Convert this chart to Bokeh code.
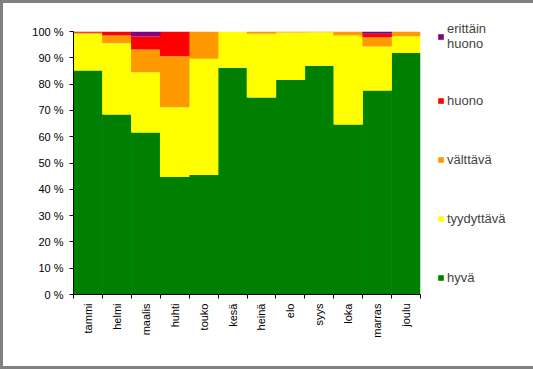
import math
from bokeh.plotting import figure
from bokeh.models import ColumnDataSource, FixedTicker, Legend, LegendItem, Range1d
from bokeh.embed import file_html
from bokeh.resources import INLINE

months = ["tammi", "helmi", "maalis", "huhti", "touko", "kesä", "heinä", "elo", "syys", "loka", "marras", "joulu"]
hyva = [85.2, 68.4, 61.6, 44.7, 45.4, 86.2, 74.9, 81.6, 87.0, 64.6, 77.6, 91.8]
tyydyttava = [13.9, 27.1, 22.9, 26.5, 44.2, 13.8, 24.2, 18.0, 12.7, 33.9, 16.7, 6.4]
valttava = [0.4, 3.0, 8.7, 19.4, 10.4, 0.0, 0.9, 0.4, 0.3, 1.5, 3.5, 1.8]
huono = [0.5, 1.5, 4.9, 9.4, 0.0, 0.0, 0.0, 0.0, 0.0, 0.0, 1.3, 0.0]
erittain_huono = [0.0, 0.0, 1.9, 0.0, 0.0, 0.0, 0.0, 0.0, 0.0, 0.0, 0.9, 0.0]

series = ["hyva", "tyydyttava", "valttava", "huono", "erittain_huono"]
labels = ["hyvä", "tyydyttävä", "välttävä", "huono", "erittäin\nhuono"]
colors = ["#008000", "#FFFF00", "#FF9900", "#FF0000", "#800080"]

x = [i + 0.5 for i in range(len(months))]
source = ColumnDataSource(dict(x=x, hyva=hyva, tyydyttava=tyydyttava, valttava=valttava,
                               huono=huono, erittain_huono=erittain_huono))

p = figure(width=533, height=369, frame_width=347, frame_height=263,
           output_backend="svg", toolbar_location=None,
           x_range=Range1d(0, len(months)), y_range=Range1d(0, 100),
           min_border_left=73, min_border_right=113, min_border_top=31, min_border_bottom=75)
p.outline_line_color = None
p.grid.visible = False
p.background_fill_color = "white"
p.border_fill_color = "white"
p.border_fill_alpha = 0

renderers = p.vbar_stack(series, x="x", width=1.02, source=source, fill_color=colors, line_color=None)

font = "Liberation Sans"
p.yaxis.ticker = FixedTicker(ticks=list(range(0, 101, 10)))
p.yaxis.major_label_overrides = {v: f"{v} %" for v in range(0, 101, 10)}
p.yaxis.minor_tick_line_color = None
p.yaxis.major_tick_in = 0
p.yaxis.major_tick_out = 4
p.yaxis.major_label_standoff = 6
p.yaxis.major_label_text_font = font
p.yaxis.major_label_text_font_size = "11px"
p.yaxis.major_label_text_color = "black"
p.yaxis.axis_line_color = "black"
p.yaxis.major_tick_line_color = "black"

p.xaxis.ticker = FixedTicker(ticks=x, minor_ticks=list(range(0, len(months) + 1)))
p.xaxis.major_label_overrides = {xi: m for xi, m in zip(x, months)}
p.xaxis.major_tick_in = 0
p.xaxis.major_tick_out = 0
p.xaxis.minor_tick_in = 0
p.xaxis.minor_tick_out = 4
p.xaxis.minor_tick_line_color = "black"
p.xaxis.major_label_orientation = math.pi / 2
p.xaxis.major_label_text_font = font
p.xaxis.major_label_text_font_size = "11px"
p.xaxis.major_label_text_color = "black"
p.xaxis.axis_line_color = "black"

items = [LegendItem(label=labels[i], renderers=[renderers[i]]) for i in reversed(range(len(series)))]
legend = Legend(items=items, location=(17, 7), border_line_color=None, background_fill_alpha=0,
                glyph_width=7, glyph_height=7, label_text_font=font, label_text_font_size="13px",
                label_height=20, spacing=39, padding=0, margin=0, label_standoff=3)
p.add_layout(legend, "right")

p.styles = {"outline": "3px solid #808080", "outline-offset": "-3px", "background-color": "white"}

open("out.html", "w").write(file_html(p, INLINE))
